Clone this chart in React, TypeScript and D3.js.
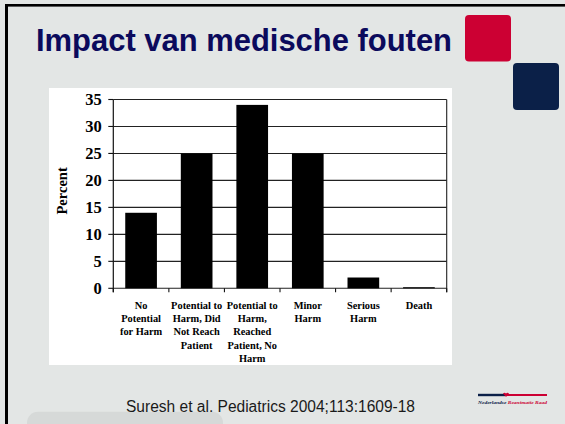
import React from "react";
import * as d3 from "d3";

const categories: string[][] = [
  ["No", "Potential", "for Harm"],
  ["Potential to", "Harm, Did", "Not Reach", "Patient"],
  ["Potential to", "Harm,", "Reached", "Patient, No", "Harm"],
  ["Minor", "Harm"],
  ["Serious", "Harm"],
  ["Death"],
];
const percentValues: number[] = [14, 25, 34, 25, 2, 0.2];
const yTicks: number[] = [0, 5, 10, 15, 20, 25, 30, 35];
const titleText = "Impact van medische fouten";
const citationText = "Suresh et al. Pediatrics 2004;113:1609-18";
const yLabel = "Percent";

const W = 565;
const H = 424;
const plot = { left: 113.3, right: 446.7, top: 99.5, bottom: 288.3 };

export default function App() {
  const ids = categories.map((_, i) => String(i));
  const x = d3
    .scaleBand<string>()
    .domain(ids)
    .range([plot.left, plot.right])
    .paddingInner(0.43)
    .paddingOuter(0.215);
  const y = d3.scaleLinear().domain([0, 35]).range([plot.bottom, plot.top]);
  const boundaries = d3.range(categories.length + 1).map((i) => plot.left + i * x.step());
  const serif = "'Liberation Serif', 'Times New Roman', serif";
  const sans = "'Liberation Sans', Arial, sans-serif";

  return (
    <svg
      width={W}
      height={H}
      style={{ position: "absolute", left: 0, top: 0, display: "block" }}
    >
      <rect x={0} y={0} width={W} height={H} fill="#e3e6e5" />
      {/* slide border */}
      <rect x={5} y={4} width={W - 5} height={2.6} fill="#000" />
      <rect x={5} y={4} width={3} height={H - 4} fill="#000" />

      {/* title */}
      <text
        x={36}
        y={51}
        fontFamily={sans}
        fontWeight="bold"
        fontSize={30.5}
        fill="#0b0a5c"
        textLength={416}
        lengthAdjust="spacingAndGlyphs"
      >
        {titleText}
      </text>
      <rect x={465} y={15} width={46} height={46.5} rx={4} fill="#cc0033" />
      <rect x={513} y={63} width={46} height={47} rx={4} fill="#0b2048" />

      {/* chart panel */}
      <rect x={49} y={88} width={403} height={277} fill="#ffffff" />

      {/* gridlines */}
      {yTicks.map((t) => (
        <line
          key={"g" + t}
          x1={plot.left}
          x2={plot.right}
          y1={y(t)}
          y2={y(t)}
          stroke="#222"
          strokeWidth={1.1}
        />
      ))}
      {/* right frame */}
      <line x1={plot.right} x2={plot.right} y1={plot.top} y2={plot.bottom + 4} stroke="#222" strokeWidth={1.1} />

      {/* bars */}
      {percentValues.map((v, i) => (
        <rect
          key={"b" + i}
          x={x(String(i))!}
          y={y(v)}
          width={x.bandwidth()}
          height={plot.bottom - y(v)}
          fill="#000"
        />
      ))}

      {/* y axis */}
      <line x1={plot.left} x2={plot.left} y1={plot.top} y2={plot.bottom + 4} stroke="#111" strokeWidth={1.2} />
      {yTicks.map((t) => (
        <g key={"yt" + t}>
          <line x1={plot.left - 5} x2={plot.left} y1={y(t)} y2={y(t)} stroke="#111" strokeWidth={1.1} />
          <text
            x={plot.left - 11.5}
            y={y(t)}
            dy="0.34em"
            textAnchor="end"
            fontFamily={serif}
            fontWeight="bold"
            fontSize={16.5}
            fill="#000"
          >
            {t}
          </text>
        </g>
      ))}
      {/* x ticks */}
      {boundaries.map((bx, i) => (
        <line key={"xt" + i} x1={bx} x2={bx} y1={plot.bottom} y2={plot.bottom + 4} stroke="#111" strokeWidth={1.1} />
      ))}
      {/* x labels */}
      {categories.map((lines, i) => (
        <text
          key={"xl" + i}
          x={x(String(i))! + x.bandwidth() / 2}
          y={308.7}
          textAnchor="middle"
          fontFamily={serif}
          fontWeight="bold"
          fontSize={10.4}
          fill="#000"
        >
          {lines.map((ln, j) => (
            <tspan key={j} x={x(String(i))! + x.bandwidth() / 2} dy={j === 0 ? 0 : 13.3}>
              {ln}
            </tspan>
          ))}
        </text>
      ))}
      {/* y label */}
      <text
        transform={`translate(67,${(plot.top + plot.bottom) / 2 - 3}) rotate(-90)`}
        textAnchor="middle"
        fontFamily={serif}
        fontWeight="bold"
        fontSize={14.5}
        fill="#000"
      >
        {yLabel}
      </text>

      {/* citation */}
      <rect x={27} y={411.7} width={196} height={30} rx={11} fill="#d6d9d8" />
      <text
        x={126}
        y={411.7}
        fontFamily={sans}
        fontSize={16}
        fill="#1a1a1a"
        textLength={289}
        lengthAdjust="spacingAndGlyphs"
      >
        {citationText}
      </text>

      {/* logo */}
      <line x1={478} x2={505} y1={395} y2={395} stroke="#0b2048" strokeWidth={2.4} />
      <line x1={505} x2={547} y1={395} y2={395} stroke="#cc0033" strokeWidth={2} />
      <path d="M503,393.5 q1.5,-1.5 3,0 q1.5,-1.5 3,0 l-3,3.5 z" fill="#cc0033" />
      <text x={478} y={404} fontFamily={serif} fontStyle="italic" fontWeight="bold" fontSize={4.6} textLength={69} lengthAdjust="spacingAndGlyphs">
        <tspan fill="#0b2048">Nederlandse </tspan>
        <tspan fill="#cc0033">Reanimatie Raad</tspan>
      </text>
    </svg>
  );
}
